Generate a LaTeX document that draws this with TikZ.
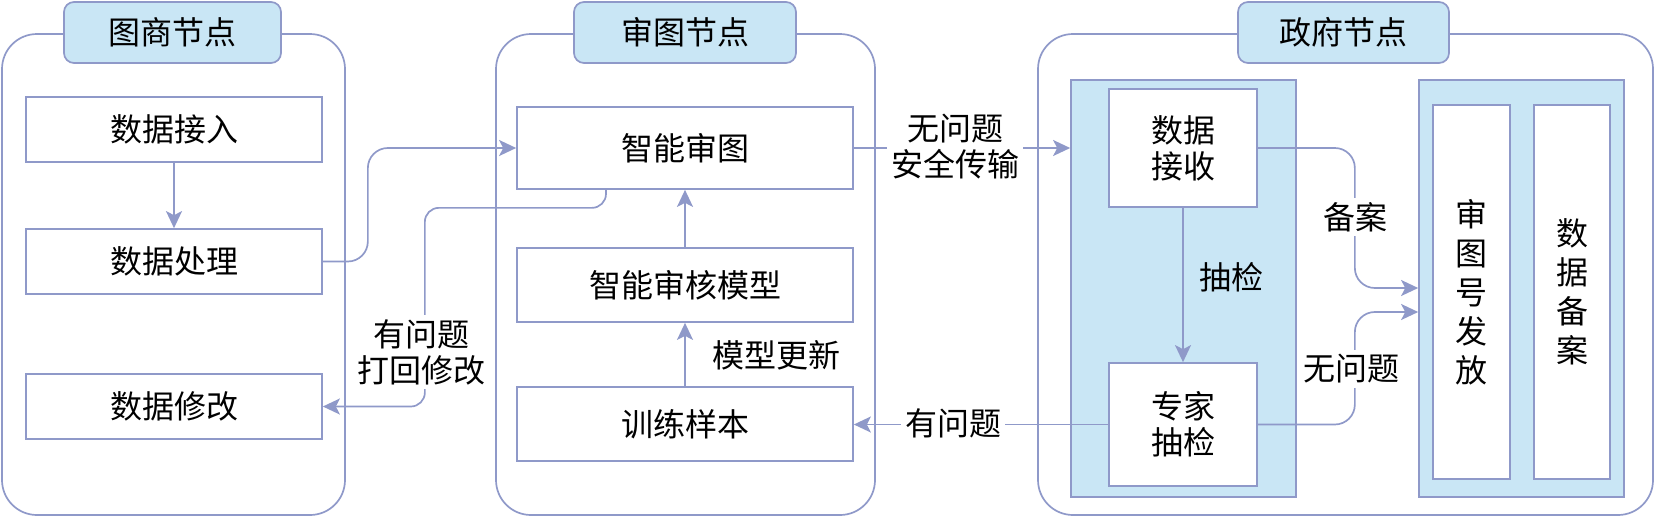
\documentclass[tikz,border=0pt]{standalone}
\usepackage{fontspec}
\setmainfont{Noto Sans CJK SC}
\usetikzlibrary{arrows.meta}

\definecolor{wirec}{RGB}{143,153,201}
\definecolor{panelc}{RGB}{201,230,245}

\begin{document}
\begin{tikzpicture}[x=1pt, y=-1pt,
	every node/.style={font=\fontsize{32}{36}\selectfont, inner sep=0pt, align=center},
	group/.style={draw=wirec, line width=1.7pt, rounded corners=35pt, minimum height=481pt},
	titletab/.style={draw=wirec, line width=1.7pt, fill=panelc, rounded corners=10pt, minimum height=61pt},
	panel/.style={draw=wirec, line width=1.7pt, fill=panelc, minimum height=417pt},
	box/.style={draw=wirec, line width=1.7pt, fill=white},
	wire/.style={draw=wirec, line width=1.7pt, -{Stealth[length=17pt, width=16pt, inset=4pt]}},
	lbl/.style={fill=white, inner sep=4pt}]
	% Groups, boxes and wires:
	\useasboundingbox (0, 0) rectangle (1656, 517);
	\node[group, minimum width=343pt] (G1) at (173.5, 274.5) {};
	\node[group, minimum width=379pt] (G2) at (685.5, 274.5) {};
	\node[group, minimum width=615pt] (G3) at (1345.5, 274.5) {};
	\node[titletab, minimum width=217pt] (T1) at (172.5, 32.5) {图商节点};
	\node[titletab, minimum width=222pt] (T2) at (685, 32.5) {审图节点};
	\node[titletab, minimum width=211pt] (T3) at (1343.5, 32.5) {政府节点};
	\node[panel, minimum width=225pt] (PA) at (1183.5, 288.5) {};
	\node[panel, minimum width=205pt] (PB) at (1521.5, 288.5) {};
	\node[box, minimum width=296pt, minimum height=65pt] (Acc) at (174, 129.5) {数据接入};
	\node[box, minimum width=296pt, minimum height=65pt] (Proc) at (174, 261.5) {数据处理};
	\node[box, minimum width=296pt, minimum height=65pt] (Fix) at (174, 406.5) {数据修改};
	\node[box, minimum width=336pt, minimum height=82pt] (Rev) at (685, 148) {智能审图};
	\node[box, minimum width=336pt, minimum height=74pt] (Model) at (685, 285) {智能审核模型};
	\node[box, minimum width=336pt, minimum height=74pt] (Train) at (685, 424) {训练样本};
	\node[box, minimum width=148pt, minimum height=118pt] (Recv) at (1183, 148) {数据\\接收};
	\node[box, minimum width=148pt, minimum height=123pt] (Exp) at (1183, 424.5) {专家\\抽检};
	\node[box, minimum width=77pt, minimum height=374pt, font=\fontsize{32}{39}\selectfont] (Issue) at (1471.5, 292) {审\\图\\号\\发\\放};
	\node[box, minimum width=76pt, minimum height=374pt, font=\fontsize{32}{39}\selectfont] (File) at (1572, 292) {数\\据\\备\\案};
	\draw[wire] (Acc.south) -- (Proc.north);
	\draw[wire, rounded corners=20pt] (Proc.east) -- ++(45, 0) |- (Rev.west);
	\draw[wire, rounded corners=14pt] ([xshift=-79pt]Rev.south) -- ++(0, 18) -| ([xshift=102pt]Fix.east) -- (Fix.east);
	\node[lbl] (Ret) at (421, 352) {有问题\\打回修改};
	\draw[wire] (Train.north) -- (Model.south);
	\draw[wire] (Model.north) -- (Rev.south);
	\node (Upd) at (776, 355) {模型更新};
	\draw[wire] (Rev.east) -- (Rev.east -| PA.west);
	\node[lbl] (Ok) at (955, 147) {无问题\\安全传输};
	\draw[wire] (Exp.west) -- (Exp.west -| Train.east);
	\node[lbl] (Bad) at (953, 423) {有问题};
	\draw[wire] (Recv.south) -- (Exp.north);
	\node (Chk) at (1231, 277) {抽检};
	\draw[wire, rounded corners=20pt] (Recv.east) -- ++(97, 0) |- ([yshift=0.5pt]PB.west);
	\node[lbl] (Arch) at (1355, 217) {备案};
	\draw[wire, rounded corners=20pt] (Exp.east) -- ++(97, 0) |- ([yshift=-23.5pt]PB.west);
	\node[lbl] (Pass) at (1351, 369) {无问题};
\end{tikzpicture}
\end{document}
